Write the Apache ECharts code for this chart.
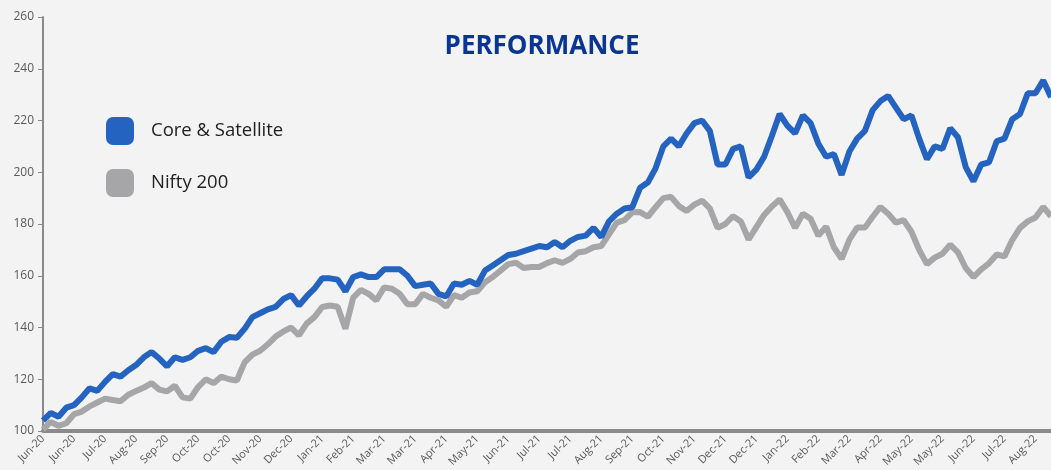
<!DOCTYPE html>
<html lang="en">
<head>
    <meta charset="UTF-8">
    <title>Performance</title>
    <style type="text/css">
        *{
            margin: 0;
            padding: 0;
        }
        body{
            background: #f3f3f3;
        }
        #main{
            width: 1051px;
            height: 470px;
        }
    </style>
</head>
<body>
    <div id="main"></div>
    <script src="https://cdn.jsdelivr.net/npm/echarts@6/dist/echarts.min.js"></script>
    <script type="text/javascript">
        // x-axis tick labels (one every 4 points)
        var tickLabels = ['Jun-20','Jun-20','Jul-20','Aug-20','Sep-20','Oct-20','Oct-20','Nov-20','Dec-20','Jan-21','Feb-21',
            'Mar-21','Mar-21','Apr-21','May-21','Jun-21','Jul-21','Jul-21','Aug-21','Sep-21','Oct-21','Nov-21',
            'Dec-21','Dec-21','Jan-22','Feb-22','Mar-22','Apr-22','May-22','May-22','Jun-22','Jul-22','Aug-22'];

        var coreSatellite = [
            104,107,105.5,109,110,113,116.5,115.5,119,122,121,123.5,125.5,128.5,130.5,128,125,128.5,127.5,128.5,
            131,132,130.5,134.5,136.3,136,139.5,144,145.5,147,148,151,152.5,148.5,152,155,159,159,158.5,154,
            159.5,160.5,159.5,159.5,162.5,162.5,162.5,160,156,156.5,157,153,152,157,156.5,158,156.5,162,164,166,
            168,168.5,169.5,170.5,171.5,171,173,171,173.5,175,175.5,178.5,175,181,184,186,186.5,194,196,201.5,
            210,213,210,215,219,220,216,203,203,209,210,198,201,206,214,222.5,218,215,222,219,
            211,206,207,199,208,213,216,224,227.5,229.5,225,220.5,222,213,205,210,209,217,213.5,202,
            196.5,203,203.8,212,213,220.5,222.5,230.5,230.5,235.5,229
        ];
        var nifty200 = [
            100.5,103.5,102,103,106.5,107.5,109.5,111,112.5,112,111.5,114,115.5,116.8,118.5,116,115.3,117.5,113,112.5,
            117,120,118.5,121,120,119.5,126.5,129.5,131,133.5,136.5,138.5,140,137,141.5,144,147.9,148.5,148,139.5,
            151.5,154.5,153,150.5,155.5,155,153,149,149,153,151.5,150.5,148,152.5,151.5,153.5,154,157.5,159.5,162,
            164.5,165,163,163.4,163.4,164.9,166,165,166.5,169,169.5,171,171.5,176,180.5,181.5,184.5,184.6,182.8,186.5,
            190,190.5,187,185,187.5,189,186,178.5,180,183,181,174,178.8,183.5,186.8,189.5,184.6,178.5,184,182,
            175.5,179,171,166.5,174,178.6,178.6,182.8,186.6,184,180.5,181.5,177,170,164.5,167,168.5,172,169,163,
            159.5,162.5,164.8,168.2,167.5,173.8,178.5,181,182.5,186.6,183
        ];

        var categories = coreSatellite.map(function (v, i) {
            return tickLabels[Math.min(Math.floor(i / 4), tickLabels.length - 1)];
        });

        var myChart = echarts.init(document.getElementById('main'));

        var option = {
            backgroundColor: '#f3f3f3',
            title: {
                text: 'PERFORMANCE',
                left: 537,
                top: 29,
                textAlign: 'center',
                textStyle: {
                    color: '#0b3592',
                    fontFamily: 'Open Sans',
                    fontWeight: 'bold',
                    fontSize: 26
                }
            },
            legend: {
                orient: 'vertical',
                left: 101,
                top: 112,
                icon: 'roundRect',
                itemWidth: 28,
                itemHeight: 28,
                itemGap: 24,
                textStyle: {
                    color: '#222',
                    fontFamily: 'Open Sans',
                    fontSize: 18.5,
                    padding: [0, 0, 0, 12]
                },
                data: ['Core & Satellite', 'Nifty 200']
            },
            grid: {
                left: 43,
                right: 0,
                top: 17,
                bottom: 39
            },
            xAxis: {
                type: 'category',
                boundaryGap: false,
                data: categories,
                axisLine: {
                    lineStyle: { color: '#8a8a8a', width: 4 }
                },
                axisTick: { show: false },
                axisLabel: {
                    interval: function (i) { return i % 4 === 0; },
                    rotate: 45,
                    color: '#595959',
                    fontFamily: 'Open Sans',
                    fontSize: 11,
                    margin: 6
                },
                splitLine: { show: false }
            },
            yAxis: {
                type: 'value',
                min: 100,
                max: 260,
                interval: 20,
                axisLine: {
                    show: true,
                    lineStyle: { color: '#8a8a8a', width: 2 }
                },
                axisTick: {
                    show: true,
                    length: 5,
                    lineStyle: { color: '#8a8a8a', width: 1 }
                },
                axisLabel: {
                    color: '#595959',
                    fontFamily: 'Open Sans',
                    fontSize: 12,
                    margin: 9
                },
                splitLine: { show: false }
            },
            series: [
                {
                    name: 'Nifty 200',
                    type: 'line',
                    data: nifty200,
                    showSymbol: false,
                    color: '#a6a6a9',
                    lineStyle: { width: 6, color: '#a6a6a9' },
                    z: 2
                },
                {
                    name: 'Core & Satellite',
                    type: 'line',
                    data: coreSatellite,
                    showSymbol: false,
                    color: '#2563c0',
                    lineStyle: { width: 6, color: '#2563c0' },
                    z: 3
                }
            ]
        };

        myChart.setOption(option);
    </script>
</body>
</html>
